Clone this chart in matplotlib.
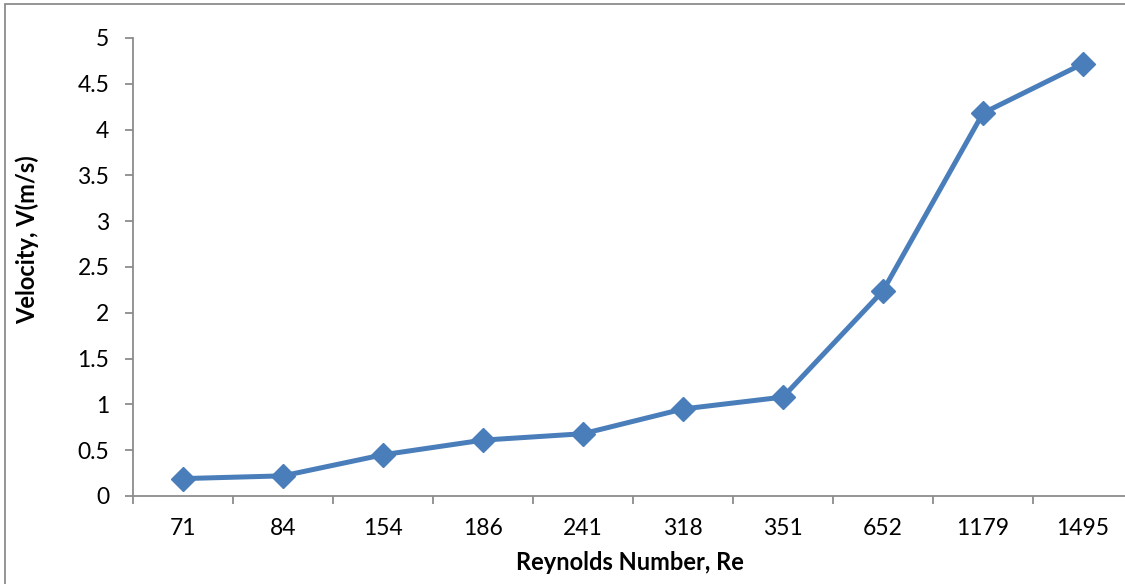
import matplotlib
matplotlib.use("Agg")
import matplotlib.pyplot as plt
from matplotlib.patches import Rectangle
from matplotlib.ticker import FixedLocator

reynolds = ["71", "84", "154", "186", "241", "318", "351", "652", "1179", "1495"]
velocity = [0.19, 0.22, 0.45, 0.61, 0.68, 0.95, 1.08, 2.24, 4.18, 4.72]
yticks = [0, 0.5, 1, 1.5, 2, 2.5, 3, 3.5, 4, 4.5, 5]
ytick_labels = ["0", "0.5", "1", "1.5", "2", "2.5", "3", "3.5", "4", "4.5", "5"]

W, H = 1125, 584
fig = plt.figure(figsize=(W / 100, H / 100), dpi=100)
plt.rcParams["font.family"] = ["Lato", "DejaVu Sans"]

# plot area in pixel coordinates
left, right, top, bottom = 133, 1133, 38, 496
ax = fig.add_axes([left / W, 1 - bottom / H, (right - left) / W, (bottom - top) / H])

grey = "#8c8c8c"
blue = "#4a7ebb"

x = list(range(len(reynolds)))
ax.plot(x, velocity, color=blue, lw=3.6, marker="D", ms=12,
        markerfacecolor=blue, markeredgecolor=blue, solid_joinstyle="round",
        clip_on=False, zorder=3)

ax.set_xlim(-0.5, len(reynolds) - 0.5)
ax.set_ylim(0, 5)

ax.set_yticks(yticks)
ax.set_yticklabels(ytick_labels)

ax.set_xticks(x)
ax.set_xticklabels(reynolds)
ax.xaxis.set_minor_locator(FixedLocator([i - 0.5 for i in range(len(reynolds) + 1)]))

ax.tick_params(axis="x", which="major", length=0, pad=16, labelsize=16.5, colors="black")
ax.tick_params(axis="x", which="minor", length=6, width=1.3, color=grey, direction="out")
ax.tick_params(axis="y", which="major", length=6, width=1.3, color=grey, pad=11,
               labelsize=16.5, labelcolor="black")

for side in ("top", "right"):
    ax.spines[side].set_visible(False)
for side in ("left", "bottom"):
    ax.spines[side].set_color(grey)
    ax.spines[side].set_linewidth(1.3)

fig.text(630 / W, 1 - 562 / H, "Reynolds Number, Re", ha="center", va="center",
         fontsize=17, fontweight="bold")
fig.text(27 / W, 1 - 240 / H, "Velocity, V(m/s)", ha="center", va="center",
         rotation=90, fontsize=17, fontweight="bold")

# outer chart border
fig.patches.append(Rectangle((5 / W, -0.1), 1.2, 1 - 4 / H + 0.1,
                             transform=fig.transFigure, fill=False,
                             edgecolor=grey, lw=1.3))

fig.savefig("out.png", dpi=100)
